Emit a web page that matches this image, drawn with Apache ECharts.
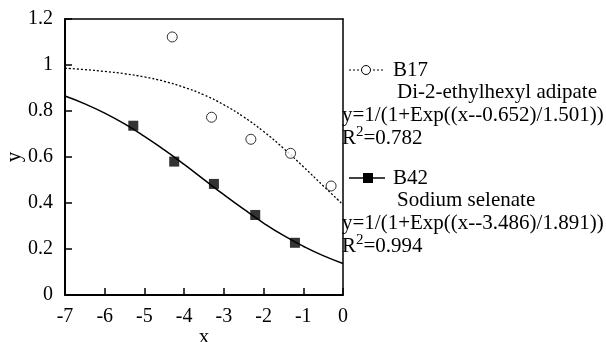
<!DOCTYPE html>
<html>
<head>
<meta charset="utf-8">
<script src="https://cdn.jsdelivr.net/npm/echarts@6/dist/echarts.min.js"></script>
<style>
html,body{margin:0;padding:0;background:#fff;}
#chart{width:606px;height:342px;}
</style>
</head>
<body>
<div id="chart"></div>
<script>
// ---- data ----
const curveX = [-7, -6.5, -6, -5.5, -5, -4.5, -4, -3.5, -3, -2.5, -2, -1.5, -1, -0.5, 0];
const b17Fit = [0.986, 0.980, 0.972, 0.962, 0.948, 0.929, 0.903, 0.870, 0.827, 0.774, 0.711, 0.638, 0.558, 0.475, 0.393];
const b42Fit = [0.865, 0.831, 0.791, 0.744, 0.690, 0.631, 0.568, 0.502, 0.436, 0.373, 0.313, 0.259, 0.212, 0.171, 0.137];
const b17X = [-4.30, -3.31, -2.32, -1.32, -0.30];
const b17Y = [1.122, 0.773, 0.677, 0.616, 0.474];
const b42X = [-5.28, -4.25, -3.25, -2.21, -1.21];
const b42Y = [0.736, 0.580, 0.483, 0.348, 0.227];
const b17Legend = ['B17', 'Di-2-ethylhexyl adipate', 'y=1/(1+Exp((x--0.652)/1.501))', '0.782'];
const b42Legend = ['B42', 'Sodium selenate', 'y=1/(1+Exp((x--3.486)/1.891))', '0.994'];

const zip = (xs, ys) => xs.map((x, i) => [x, ys[i]]);
const FONT = '"Liberation Serif", "DejaVu Serif", serif';

const chart = echarts.init(document.getElementById('chart'), null, {renderer: 'canvas'});

function legendBlock(lines, yTop, marker) {
  const els = [];
  const cy = yTop;
  els.push({
    type: 'line', z: 100,
    shape: {x1: 349, y1: cy, x2: 385, y2: cy},
    style: marker === 'circle' ? {stroke: '#000', lineWidth: 1.2, lineDash: [2, 2]} : {stroke: '#000', lineWidth: 1.5}
  });
  if (marker === 'circle') {
    els.push({type: 'circle', z: 101, shape: {cx: 366, cy: cy, r: 4.5}, style: {fill: '#fff', stroke: '#000', lineWidth: 1}});
  } else {
    els.push({type: 'rect', z: 101, shape: {x: 363, y: cy - 5, width: 10, height: 10}, style: {fill: '#000'}});
  }
  const t = (txt, x, y) => ({
    type: 'text', z: 100, x: x, y: y,
    style: {text: txt, fill: '#000', font: '21px ' + FONT, verticalAlign: 'middle', align: 'left'}
  });
  els.push(t(lines[0], 393, cy));
  els.push(t(lines[1], 397, cy + 22));
  els.push(t(lines[2], 342, cy + 45));
  els.push({
    type: 'text', z: 100, x: 342, y: cy + 67,
    style: {
      text: '{a|R}{s|2}{a|=' + lines[3] + '}',
      verticalAlign: 'middle', align: 'left',
      rich: {
        a: {fontFamily: FONT, fontSize: 21, lineHeight: 24, fill: '#000', color: '#000', verticalAlign: 'bottom'},
        s: {fontFamily: FONT, fontSize: 15, lineHeight: 14, fill: '#000', color: '#000', verticalAlign: 'top'}
      }
    }
  });
  return els;
}

const frameAxis = {
  axisLine: {show: true, onZero: false, lineStyle: {color: '#000', width: 1.5}},
  axisTick: {show: false}, axisLabel: {show: false}, splitLine: {show: false}
};

const option = {
  backgroundColor: '#fff',
  animation: false,
  grid: {left: 65, right: 263, top: 19, bottom: 47, show: false,
         outerBoundsMode: 'none', containLabel: false},
  xAxis: [{
    type: 'value', min: -7, max: 0, interval: 1, position: 'bottom',
    name: 'x', nameLocation: 'middle', nameGap: 32, nameMoveOverlap: false,
    nameTextStyle: {fontFamily: FONT, fontSize: 21, color: '#000'},
    axisLine: {show: true, onZero: false, lineStyle: {color: '#000', width: 2}},
    axisTick: {show: true, inside: true, length: 7, lineStyle: {color: '#000', width: 1.5}},
    axisLabel: {fontFamily: FONT, fontSize: 20, color: '#000', margin: 12},
    splitLine: {show: false}
  }, Object.assign({type: 'value', min: -7, max: 0, position: 'top'}, frameAxis)],
  yAxis: [{
    type: 'value', min: 0, max: 1.2, interval: 0.2, position: 'left',
    name: 'y', nameLocation: 'middle', nameGap: 40, nameRotate: 90, nameMoveOverlap: false,
    nameTextStyle: {fontFamily: FONT, fontSize: 21, color: '#000'},
    axisLine: {show: true, onZero: false, lineStyle: {color: '#000', width: 2}},
    axisTick: {show: true, inside: true, length: 7, lineStyle: {color: '#000', width: 1.5}},
    axisLabel: {fontFamily: FONT, fontSize: 20, color: '#000', margin: 12, formatter: v => String(+v.toFixed(1))},
    splitLine: {show: false}
  }, Object.assign({type: 'value', min: 0, max: 1.2, position: 'right'}, frameAxis)],
  series: [
    {name: 'B17 fit', type: 'line', smooth: true, symbol: 'none', data: zip(curveX, b17Fit),
     lineStyle: {color: '#000', width: 1.3, type: [2, 2]}, z: 2},
    {name: 'B42 fit', type: 'line', smooth: true, symbol: 'none', data: zip(curveX, b42Fit),
     lineStyle: {color: '#000', width: 1.5}, z: 2},
    {name: 'B17', type: 'scatter', symbol: 'circle', symbolSize: 10, data: zip(b17X, b17Y),
     itemStyle: {color: '#fff', borderColor: '#000', borderWidth: 1}, z: 3},
    {name: 'B42', type: 'scatter', symbol: 'rect', symbolSize: 10, data: zip(b42X, b42Y),
     itemStyle: {color: '#000'}, z: 3}
  ],
  graphic: [].concat(legendBlock(b17Legend, 70, 'circle'), legendBlock(b42Legend, 178, 'rect'))
};
chart.setOption(option);
</script>
</body>
</html>
